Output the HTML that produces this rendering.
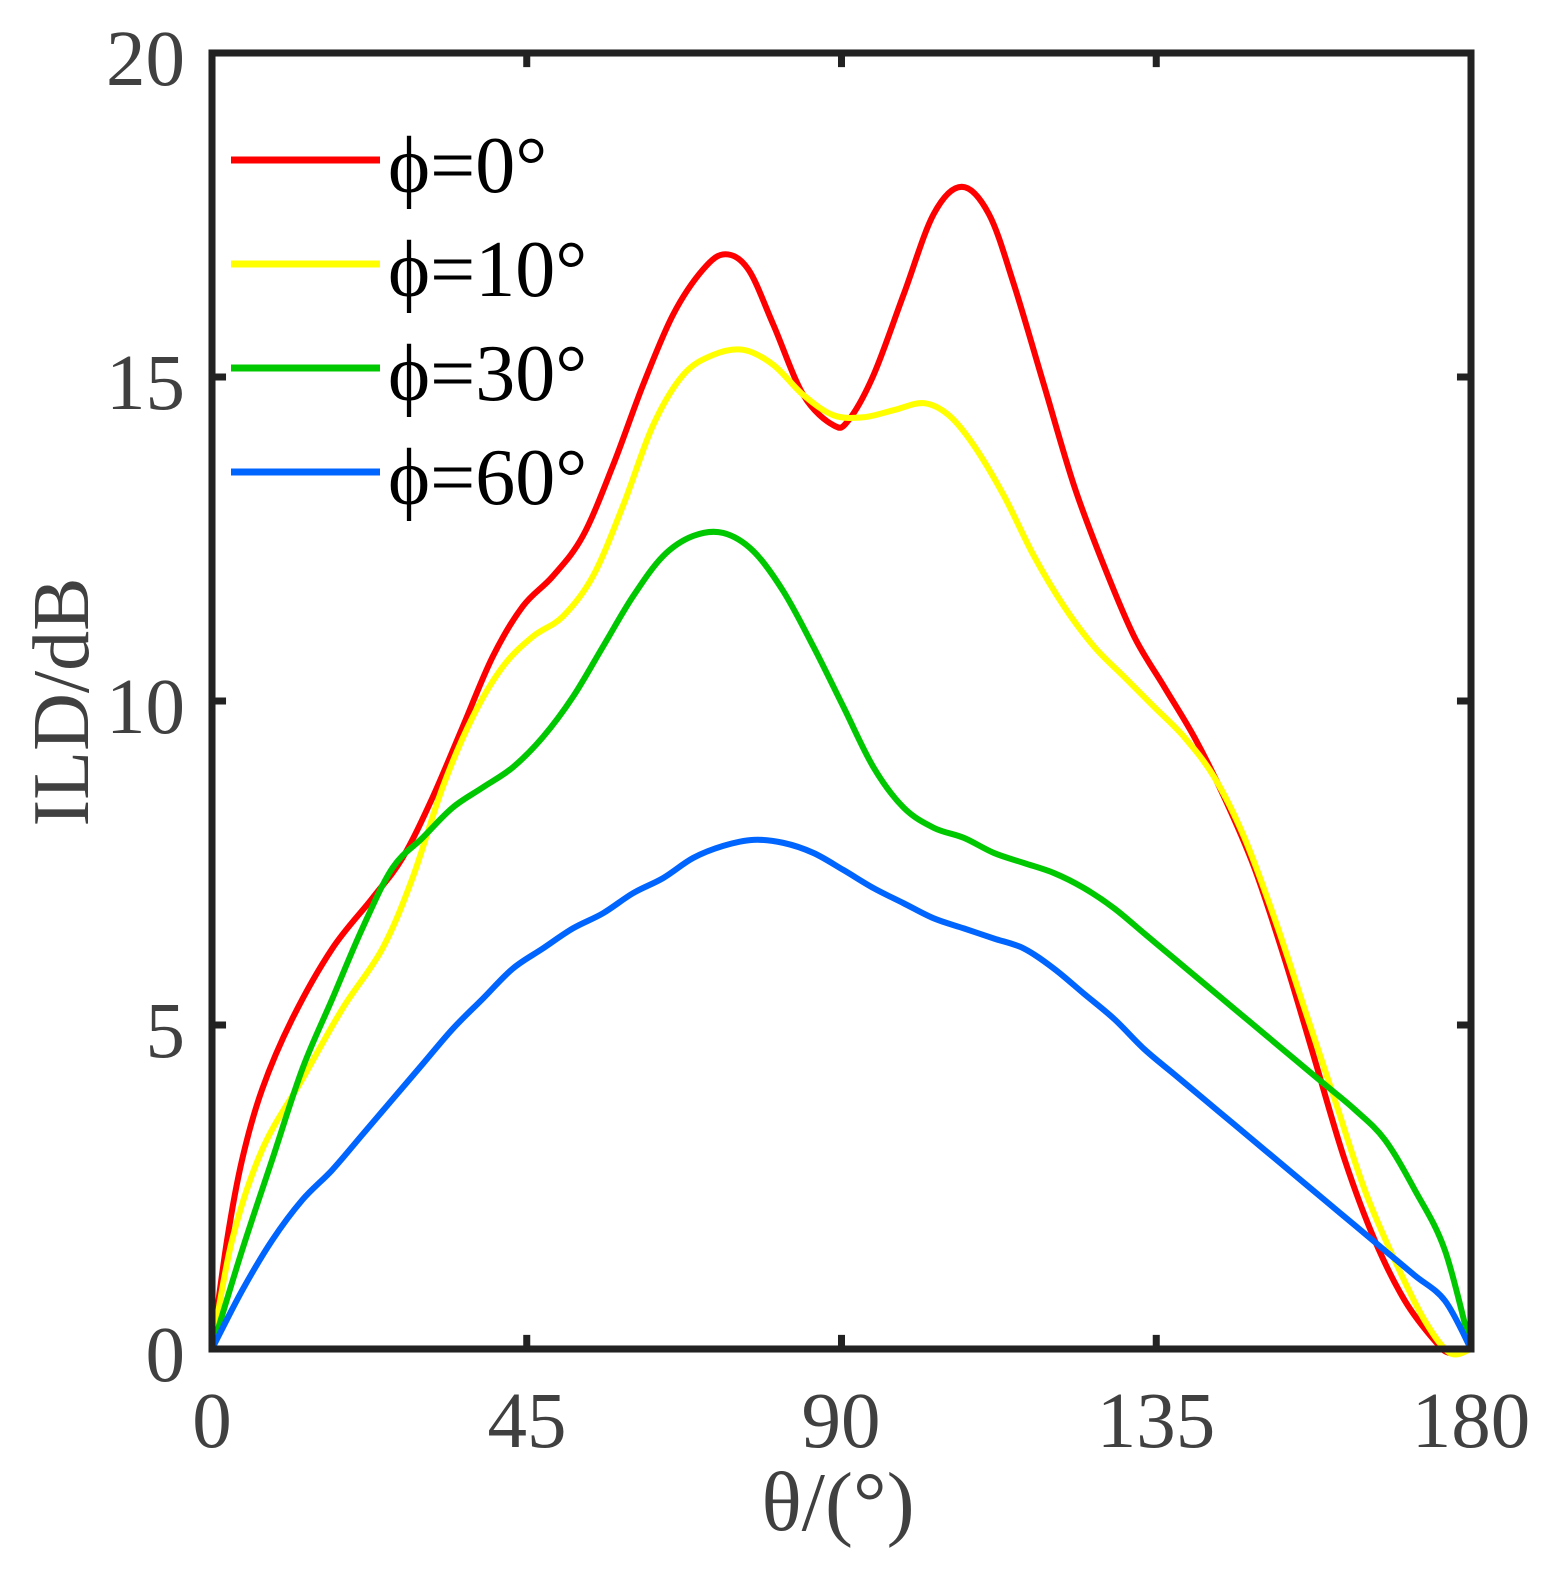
<!DOCTYPE html><html><head><style>html,body{margin:0;padding:0;background:#fff;overflow:hidden}svg{display:block}</style></head><body>
<svg id="s" width="1557" height="1579" viewBox="0 0 1557 1579" xmlns="http://www.w3.org/2000/svg" font-family="'Liberation Serif',serif">
<rect width="1557" height="1579" fill="#fff"/>
<g transform="translate(212 53) scale(1.00239 1.00621) translate(-210 -50)">
<g id="curves" fill="none" stroke-width="6" stroke-linejoin="round" stroke-linecap="round"></g>
<g stroke="#222" stroke-width="7" fill="none">
<rect x="210" y="50" width="1256" height="1288"/>
<path d="M524 1338v-14M838 1338v-14M1152 1338v-14M524 50v14M838 50v14M1152 50v14M210 1016h14M210 694h14M210 372h14M1466 1016h-14M1466 694h-14M1466 372h-14"/>
</g>
</g>
<g fill="#404040" font-size="79" text-anchor="middle">
<text x="212" y="1447">0</text><text x="527" y="1447">45</text><text x="841" y="1447">90</text><text x="1156" y="1447">135</text><text x="1471" y="1447">180</text>
</g>
<g fill="#404040" font-size="79" text-anchor="end">
<text x="185" y="1381">0</text><text x="185" y="1057">5</text><text x="185" y="733">10</text><text x="185" y="409">15</text><text x="185" y="85">20</text>
</g>
<text x="838" y="1530" fill="#404040" font-size="84" text-anchor="middle">θ/(°)</text>
<text transform="translate(88 702) rotate(-90)" fill="#404040" font-size="80" text-anchor="middle">ILD/dB</text>
<g stroke-width="7">
<line x1="231" y1="160" x2="380" y2="160" stroke="#ff0000"/>
<line x1="231" y1="264" x2="380" y2="264" stroke="#ffff00"/>
<line x1="231" y1="368" x2="380" y2="368" stroke="#00c800"/>
<line x1="231" y1="472" x2="380" y2="472" stroke="#0064ff"/>
</g>
<g font-size="80" fill="#000">
<text x="388" y="192">ϕ=0°</text><text x="388" y="296">ϕ=10°</text><text x="388" y="400">ϕ=30°</text><text x="388" y="504">ϕ=60°</text>
</g>
</svg>
<script>
var D={
"#ff0000":[[210,1338],[225,1230],[240,1150],[260,1080],[290,1010],[330,940],[370,890],[400,850],[430,790],[460,720],[490,650],[520,600],[550,570],[580,530],[610,460],[640,380],[670,310],[700,265],[722,250],[745,265],[770,320],[800,390],[830,420],[845,415],[870,370],[900,290],[930,210],[958,183],[985,210],[1010,280],[1040,380],[1070,480],[1100,560],[1130,630],[1160,680],[1190,730],[1220,790],[1250,860],[1280,950],[1310,1050],[1340,1150],[1370,1230],[1400,1290],[1430,1330],[1445,1342],[1466,1338]],
"#ffff00":[[210,1338],[230,1230],[260,1140],[300,1070],[340,1000],[380,940],[410,870],[440,780],[470,710],[500,660],[530,630],[560,610],[590,570],[620,500],[650,420],[680,370],[710,350],[740,345],[770,360],[800,390],[830,410],[860,412],[890,405],[920,398],[945,410],[970,440],[1000,490],[1030,550],[1060,600],[1090,640],[1120,670],[1150,700],[1180,730],[1210,770],[1240,830],[1270,910],[1300,1000],[1330,1090],[1360,1180],[1390,1250],[1420,1310],[1445,1342],[1466,1338]],
"#00c800":[[210,1338],[240,1240],[270,1150],[300,1060],[330,990],[360,920],[390,860],[420,830],[450,800],[480,780],[510,760],[540,730],[570,690],[600,640],[630,590],[660,550],[690,530],[720,527],[750,545],[780,585],[810,640],[840,700],[870,760],[900,800],[930,820],[960,830],[990,845],[1020,855],[1050,865],[1080,880],[1110,900],[1140,925],[1170,950],[1200,975],[1230,1000],[1260,1025],[1290,1050],[1320,1075],[1350,1100],[1380,1130],[1410,1180],[1440,1240],[1466,1338]],
"#0064ff":[[210,1338],[240,1280],[270,1230],[300,1190],[330,1160],[360,1125],[390,1090],[420,1055],[450,1020],[480,990],[510,960],[540,940],[570,920],[600,905],[630,885],[660,870],[690,850],[720,838],[750,832],[780,835],[810,845],[840,862],[870,880],[900,895],[930,910],[960,920],[990,930],[1020,940],[1050,960],[1080,985],[1110,1010],[1140,1040],[1170,1065],[1200,1090],[1230,1115],[1260,1140],[1290,1165],[1320,1190],[1350,1215],[1380,1240],[1410,1265],[1440,1290],[1466,1338]]};
var g=document.getElementById('curves'),ns='http://www.w3.org/2000/svg';
for(var c in D){var p=D[c],d='M'+p[0][0]+' '+p[0][1];
for(var i=0;i<p.length-1;i++){var a=p[i-1]||p[i],b=p[i],e=p[i+1],f=p[i+2]||e;
d+='C'+(b[0]+(e[0]-a[0])/6)+' '+(b[1]+(e[1]-a[1])/6)+' '+(e[0]-(f[0]-b[0])/6)+' '+(e[1]-(f[1]-b[1])/6)+' '+e[0]+' '+e[1];}
var el=document.createElementNS(ns,'path');el.setAttribute('d',d);el.setAttribute('stroke',c);g.appendChild(el);}
</script>
</body></html>
